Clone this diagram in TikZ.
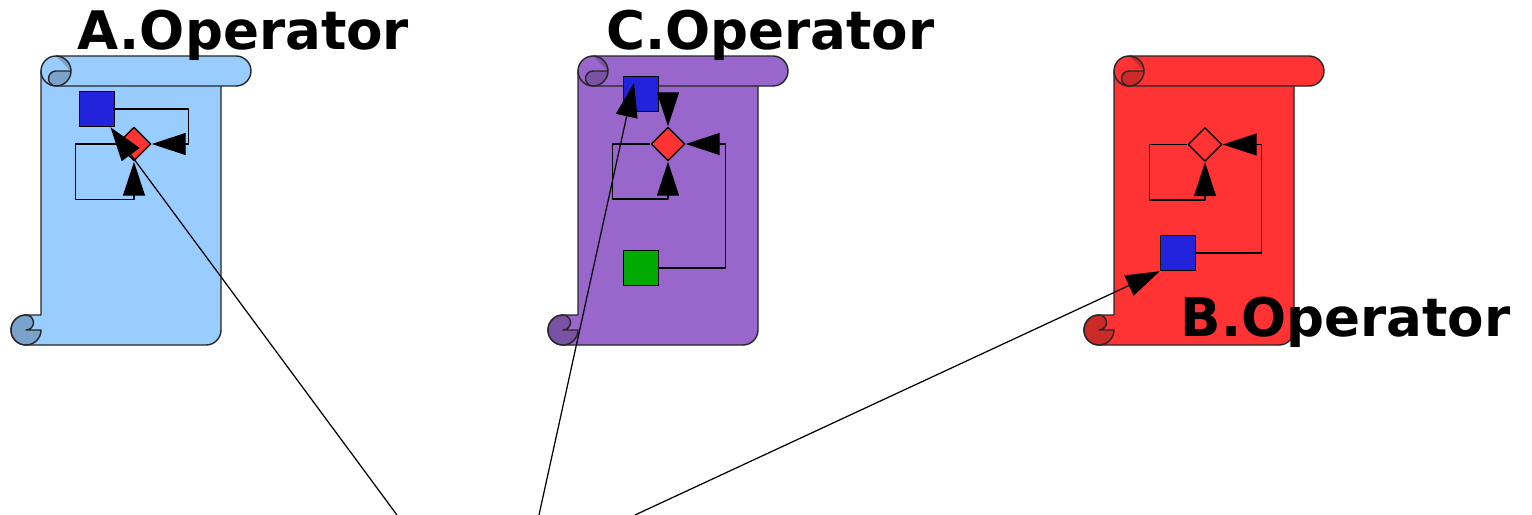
\documentclass[tikz,border=0pt]{standalone}
\usepackage{fontspec}
\setsansfont{DejaVu Sans}
\usetikzlibrary{arrows.meta,shapes.geometric}

\definecolor{opA}{HTML}{99CCFF}
\definecolor{opAdark}{HTML}{7AA3CC}
\definecolor{opC}{HTML}{9966CC}
\definecolor{opCdark}{HTML}{7A52A3}
\definecolor{opB}{HTML}{FF3333}
\definecolor{opBdark}{HTML}{CC2929}
\definecolor{portblue}{HTML}{2323DC}
\definecolor{portgreen}{HTML}{00AA00}

\begin{document}
\begin{tikzpicture}[x=0.01cm,y=0.01cm,line join=round,
    >={Triangle[length=3.4mm,width=2.2mm]}]

      \tikzset{
        opscroll/.pic={
          % sheet and lower curl
          \filldraw[fill=#1,draw=black!85,line width=0.4pt]
            (30,-15) -- (210,-15) -- (210,-274) arc (0:-90:15) -- (15,-289)
            arc (-90:-270:15) -- (30,-259) -- cycle;
          \filldraw[fill=#1dark,draw=black!85,line width=0.4pt]
            (15,-259) arc (90:360:15) -- (15,-274) arc (-90:90:7.5) -- cycle;
          % upper roll
          \filldraw[fill=#1,draw=black!85,line width=0.4pt]
            (45,0) -- (225,0) arc (90:-90:15) -- (45,-30) arc (-90:-270:15) -- cycle;
          \fill[#1dark] (45,0) arc (90:0:15) -- cycle;
          \draw[black!85,line width=0.4pt] (45,0) arc (90:0:15);
          \filldraw[fill=#1dark,draw=black!85,line width=0.4pt]
            (45,-15) arc (90:270:7.5) arc (-90:0:15) -- cycle;
        },
        port/.style={draw,rectangle,minimum size=3.5mm,inner sep=0pt,line width=0.4pt},
        merge/.style={draw,diamond,minimum size=3.4mm,inner sep=0pt,line width=0.4pt},
        link/.style={line width=0.35pt},
        title/.style={font=\sffamily\bfseries\fontsize{15.1pt}{18pt}\selectfont,inner sep=0pt,anchor=base west}
      }

      \useasboundingbox (0,0) rectangle (1532,-515);

      \pic at (11,-56) {opscroll=opA};
      \pic at (548,-56) {opscroll=opC};
      \pic at (1084,-56) {opscroll=opB};

      % A
      \node[port,fill=portblue] (sqA) at (97,-109) {};
      \node[merge,fill=opB] (dmA) at (134,-144) {};
      \draw[link,->] (dmA.west) -- ++(-41,0) -- ++(0,-55.5) -| (dmA.south);
      \draw[link,->] (sqA.east) -- ++(73,0) |- (dmA.east);

      % C
      \node[port,fill=portblue] (sqC) at (641,-94) {};
      \node[merge,fill=opB] (dmC) at (668,-144) {};
      \node[port,fill=portgreen] (grC) at (641,-268) {};
      \draw[link,->] (dmC.west) -- ++(-38,0) -- ++(0,-55) -| (dmC.south);
      \draw[link,->] (grC.east) -- ++(66,0) |- (dmC.east);
      \draw[link,->] (dmC.north |- sqC.center) -- (dmC.north);

      % B
      \node[merge] (dmB) at (1205,-144.5) {};
      \node[port,fill=portblue] (sqB) at (1178,-253) {};
      \draw[link,->] (dmB.west) -- ++(-38,0) -- ++(0,-55.5) -| (dmB.south);
      \draw[link,->] (sqB.east) -- ++(65,0) |- (dmB.east);

      \coordinate (srcA) at (397,-515);
      \coordinate (srcC) at (539,-515);
      \coordinate (srcB) at (635,-515);

      \path[link,->]
      (srcA) edge (sqA)
      (srcC) edge ([xshift=-0.07cm,yshift=0.11cm]sqC.center)
      (srcB) edge (sqB.south west);

      \node[title] (ttlA) at (77,-49.3) {A.Operator};
      \node[title] (ttlC) at (605.5,-49) {C.Operator};
      \node[title] (ttlB) at (1180,-336.7) {B.Operator};
    \end{tikzpicture}
\end{document}
